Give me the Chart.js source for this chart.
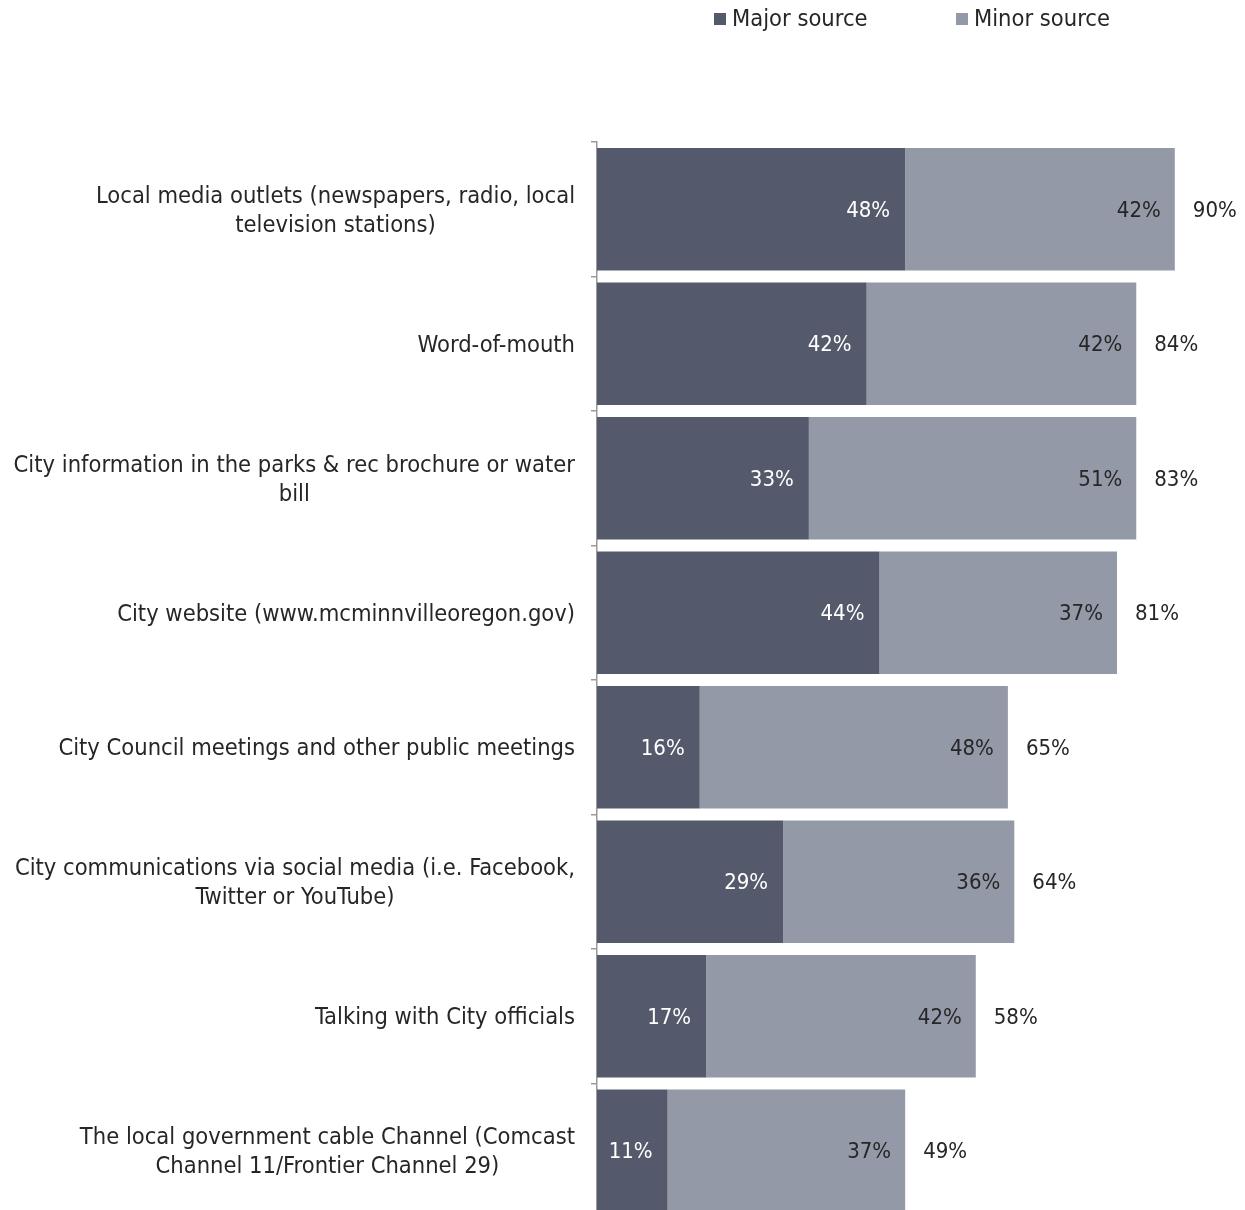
<!DOCTYPE html>
<html>
<head>
<meta charset="utf-8">
<script src="https://cdn.jsdelivr.net/npm/chart.js@4/dist/chart.umd.min.js"></script>
<style>
  html, body { margin: 0; padding: 0; background: #fff; overflow: hidden; }
  #wrap { width: 1245px; height: 1230px; position: relative; }
</style>
</head>
<body>
<div id="wrap"><canvas id="c" width="1245" height="1230"></canvas></div>
<script>
const categories = [
  ["Local media outlets (newspapers, radio, local", "television stations)"],
  ["Word-of-mouth"],
  ["City information in the parks & rec brochure or water", "bill"],
  ["City website (www.mcminnvilleoregon.gov)"],
  ["City Council meetings and other public meetings"],
  ["City communications via social media (i.e. Facebook,", "Twitter or YouTube)"],
  ["Talking with City officials"],
  ["The local government cable Channel (Comcast", "Channel 11/Frontier Channel 29)"]
];
const seriesNames = ["Major source", "Minor source"];
const majorValues = [48, 42, 33, 44, 16, 29, 17, 11];
const minorValues = [42, 42, 51, 37, 48, 36, 42, 37];
const totalValues = [90, 84, 83, 81, 65, 64, 58, 49];

const FONT = '"DejaVu Sans Condensed", "DejaVu Sans", sans-serif';
const TEXT = '#262626';
const colors = ['#545a6b', '#9499a8'];

const labelPlugin = {
  id: 'customLabels',
  afterDatasetsDraw(chart) {
    const ctx = chart.ctx;
    ctx.save();
    ctx.font = '22px ' + FONT;
    ctx.textBaseline = 'middle';
    const m0 = chart.getDatasetMeta(0), m1 = chart.getDatasetMeta(1);
    m0.data.forEach((bar, i) => {
      ctx.fillStyle = '#ffffff';
      ctx.textAlign = 'right';
      ctx.fillText(majorValues[i] + '%', bar.x - 15, bar.y + 2);
      const b1 = m1.data[i];
      ctx.fillStyle = TEXT;
      ctx.fillText(minorValues[i] + '%', b1.x - 14, b1.y + 2);
      ctx.textAlign = 'left';
      ctx.fillText(totalValues[i] + '%', b1.x + 18, b1.y + 2);
    });
    // category labels
    const y = chart.scales.y;
    const right = y.right - 22;
    ctx.font = '23.5px ' + FONT;
    ctx.fillStyle = TEXT;
    ctx.textAlign = 'center';
    categories.forEach((lines, i) => {
      const cy = y.getPixelForTick(i) + 2;
      const w = Math.max(...lines.map(l => ctx.measureText(l).width));
      const cx = right - w / 2;
      const lh = 29;
      lines.forEach((l, k) => {
        ctx.fillText(l, cx, cy + (k - (lines.length - 1) / 2) * lh);
      });
    });
    // legend
    ctx.font = '23.5px ' + FONT;
    ctx.textAlign = 'left';
    const lx = [714, 956];
    seriesNames.forEach((n, k) => {
      ctx.fillStyle = colors[k];
      ctx.fillRect(lx[k], 13, 12, 12);
      ctx.fillStyle = TEXT;
      ctx.fillText(n, lx[k] + 18, 20);
    });
    ctx.restore();
  }
};

new Chart(document.getElementById('c'), {
  type: 'bar',
  data: {
    labels: categories,
    datasets: [
      { label: seriesNames[0], data: majorValues, backgroundColor: colors[0], borderWidth: 0 },
      { label: seriesNames[1], data: minorValues, backgroundColor: colors[1], borderWidth: 0 }
    ]
  },
  options: {
    indexAxis: 'y',
    responsive: false,
    animation: false,
    events: [],
    layout: { padding: { top: 142, right: 6, bottom: 12, left: 0 } },
    datasets: { bar: { categoryPercentage: 1, barPercentage: 0.91 } },
    plugins: { legend: { display: false }, tooltip: { enabled: false } },
    scales: {
      x: { stacked: true, min: 0, max: 100, display: false },
      y: {
        stacked: true,
        offset: true,
        ticks: { display: false },
        grid: { drawOnChartArea: false, drawTicks: true, tickLength: 6, offset: true, color: '#9a9a9a', lineWidth: 1.5 },
        border: { display: true, color: '#9a9a9a', width: 1.5 },
        afterFit(scale) { scale.width = 597; }
      }
    }
  },
  plugins: [labelPlugin]
});
</script>
</body>
</html>
